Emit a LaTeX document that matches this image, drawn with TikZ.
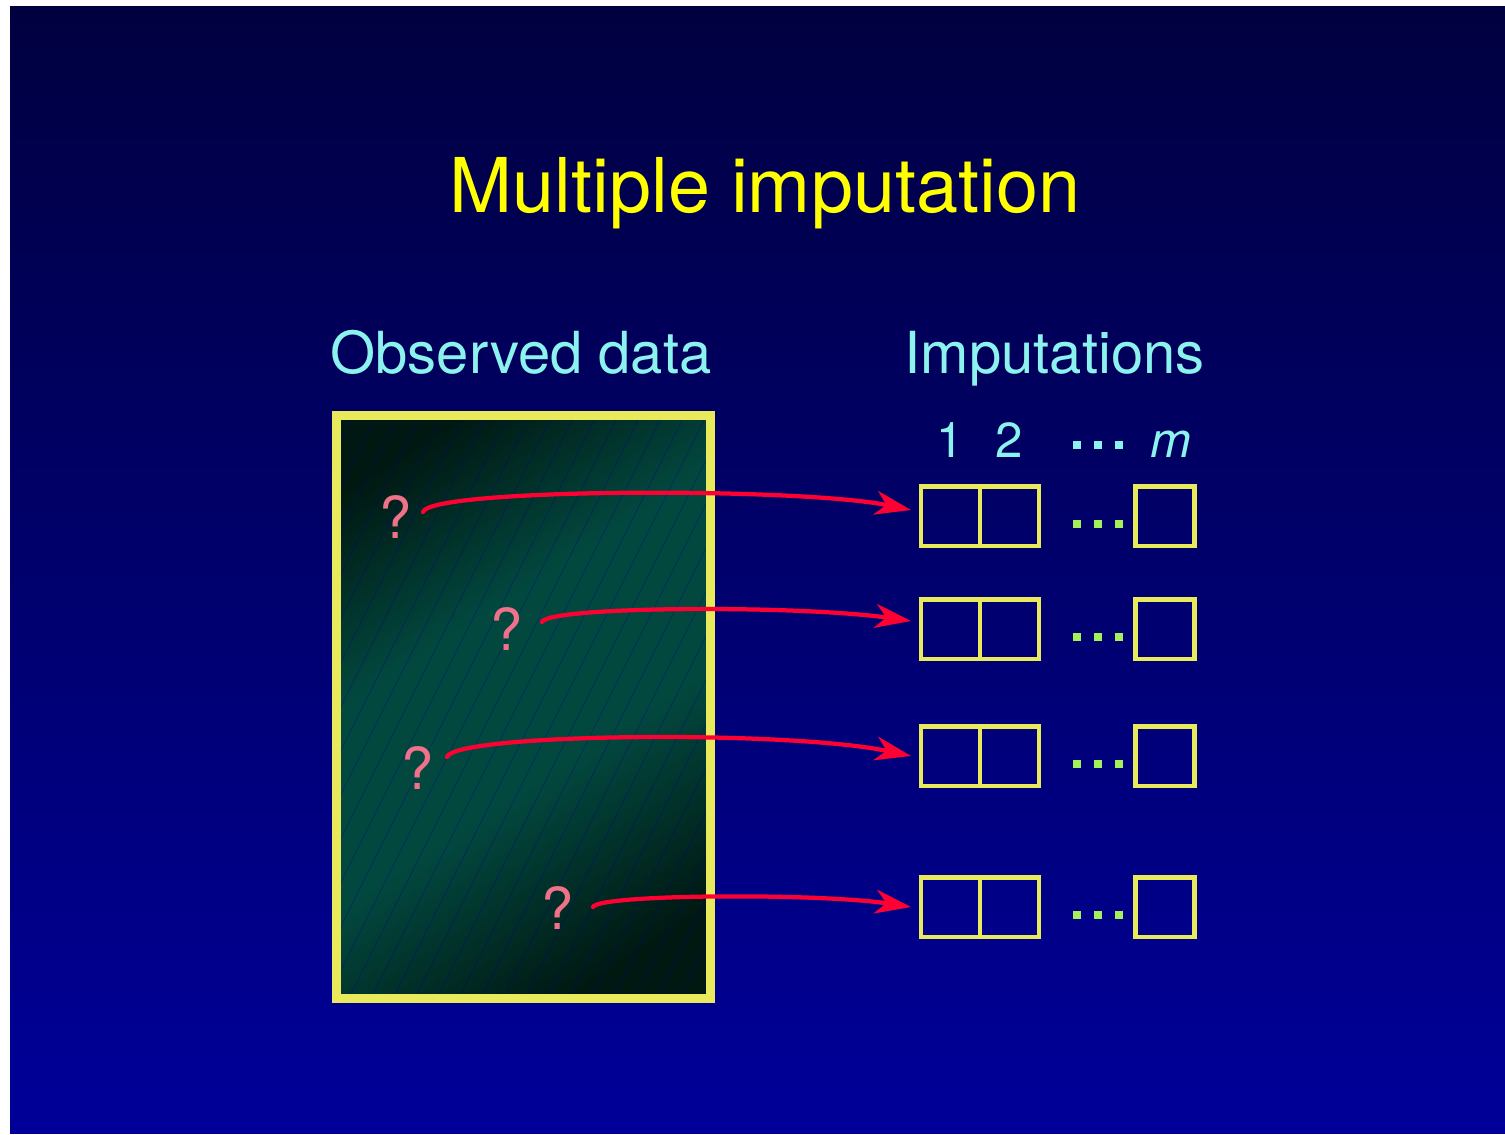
\documentclass[tikz,border=0pt]{standalone}
\usepackage{fontspec}
\setmainfont{TeX Gyre Heros}
\usepackage{tikz}
\usetikzlibrary{positioning, arrows.meta, calc}
\usepackage{xcolor}
\definecolor{bgtop}{HTML}{000040}
\definecolor{bgbottom}{HTML}{000099}
\definecolor{titleyellow}{HTML}{FFFF00}
\definecolor{boxyellow}{HTML}{E9E95C}
\definecolor{labelcyan}{HTML}{8CF2EE}
\definecolor{qpink}{HTML}{F0728A}
\definecolor{arrowred}{HTML}{FF0033}
\definecolor{dotgreen}{HTML}{A3F05A}
\definecolor{tealdark}{HTML}{001812}
\definecolor{tealmid}{HTML}{02483F}
\pgfdeclareverticalshading{obsfill}{100bp}{color(0bp)=(tealdark); color(23bp)=(tealdark); color(43bp)=(tealmid); color(60bp)=(tealmid); color(78bp)=(tealdark); color(100bp)=(tealdark)}

\begin{document}
\begin{tikzpicture}[
    x=0.02cm, y=-0.02cm,
    title/.style={text=titleyellow, font=\fontsize{43}{48}\selectfont, anchor=base, inner sep=0},
    head/.style={text=labelcyan, font=\fontsize{33}{38}\selectfont, anchor=base, inner sep=0},
    idx/.style={text=labelcyan, font=\fontsize{28}{32}\selectfont, anchor=base, inner sep=0},
    miss/.style={text=qpink, font=\fontsize{33}{38}\selectfont, anchor=base, inner sep=0},
    obs/.style={draw=boxyellow, line width=0.18cm, minimum width=7.48cm, minimum height=11.66cm, inner sep=0, outer sep=0, shade, shading=obsfill, shading angle=33},
    cell/.style={draw=boxyellow, line width=0.09cm, minimum width=1.18cm, minimum height=1.19cm, inner sep=0, outer sep=0},
    hatch/.style={draw=bgbottom, opacity=0.3, line width=0.5pt},
    arr/.style={-{Stealth[length=0.72cm, width=0.48cm, inset=0.22cm]}, draw=arrowred, line width=0.085cm, line cap=round}
]

% Page and background
\useasboundingbox (0,0) rectangle (1505,1134);
\fill[white] (0,0) rectangle (1505,1134);
\shade[top color=bgtop, bottom color=bgbottom] (10,6) rectangle (1505,1133);

% Title
\node[title] (title) at (765,212) {Multiple imputation};

% Observed data
\node[head] (obslab) at (521,373) {Observed data};
\node[obs] (obs) at (523.5,707) {};
\begin{scope}
  \clip ($(obs.south west)+(4.5,-4.5)$) rectangle ($(obs.north east)+(-4.5,4.5)$);
  \foreach \hx in {40,62,...,720}
    \draw[hatch] (\hx,1000) -- ++(300,-600);
\end{scope}
\draw[boxyellow, line width=0.18cm] (obs.south west) rectangle (obs.north east);

% Missing values
\node[miss] (q1) at (396,538) {?};
\node[miss] (q2) at (507,650) {?};
\node[miss] (q3) at (418,789) {?};
\node[miss] (q4) at (558,929) {?};

% Imputations
\node[head] (implab) at (1054.5,373) {Imputations};

\node[cell] (c11) at (950.5,516) {};
\node[cell, right=0cm of c11] (c12) {};
\node[cell, right=1.93cm of c12] (c1m) {};

\node[cell] (c21) at (950.5,629) {};
\node[cell, right=0cm of c21] (c22) {};
\node[cell, right=1.93cm of c22] (c2m) {};

\node[cell] (c31) at (950.5,756) {};
\node[cell, right=0cm of c31] (c32) {};
\node[cell, right=1.93cm of c32] (c3m) {};

\node[cell] (c41) at (950.5,907) {};
\node[cell, right=0cm of c41] (c42) {};
\node[cell, right=1.93cm of c42] (c4m) {};

% Column numbers
\node[idx] (n1) at ($(c11)+(0,-59)$) {1};
\node[idx] (n2) at ($(c12)+(0,-59)$) {2};
\node[idx] (nm) at ($(c1m)+(6,-59)$) {\itshape m};
\foreach \dx in {1077,1098,1119}
  \fill[labelcyan] (\dx-4,441) rectangle ++(8,8);

% Dots between columns
\foreach \ry in {524,637,764,915}
  \foreach \dx in {1077,1098,1119}
    \fill[dotgreen] (\dx-4,\ry-4) rectangle ++(8,8);

% Arrows
\draw[arr] ($(q1.base)+(27,-26)$) .. controls +(7,-24) and +(-112,-23) .. ($(c11.west)+(-10,-6)$);
\draw[arr] ($(q2.base)+(35,-28)$) .. controls +(6,-16) and +(-112,-16) .. ($(c21.west)+(-10,-8)$);
\draw[arr] ($(q3.base)+(29,-32)$) .. controls +(8,-24) and +(-122,-26) .. ($(c31.west)+(-10,0)$);
\draw[arr] ($(q4.base)+(35,-22)$) .. controls +(5,-13) and +(-92,-14) .. ($(c41.west)+(-10,0)$);

\end{tikzpicture}
\end{document}
